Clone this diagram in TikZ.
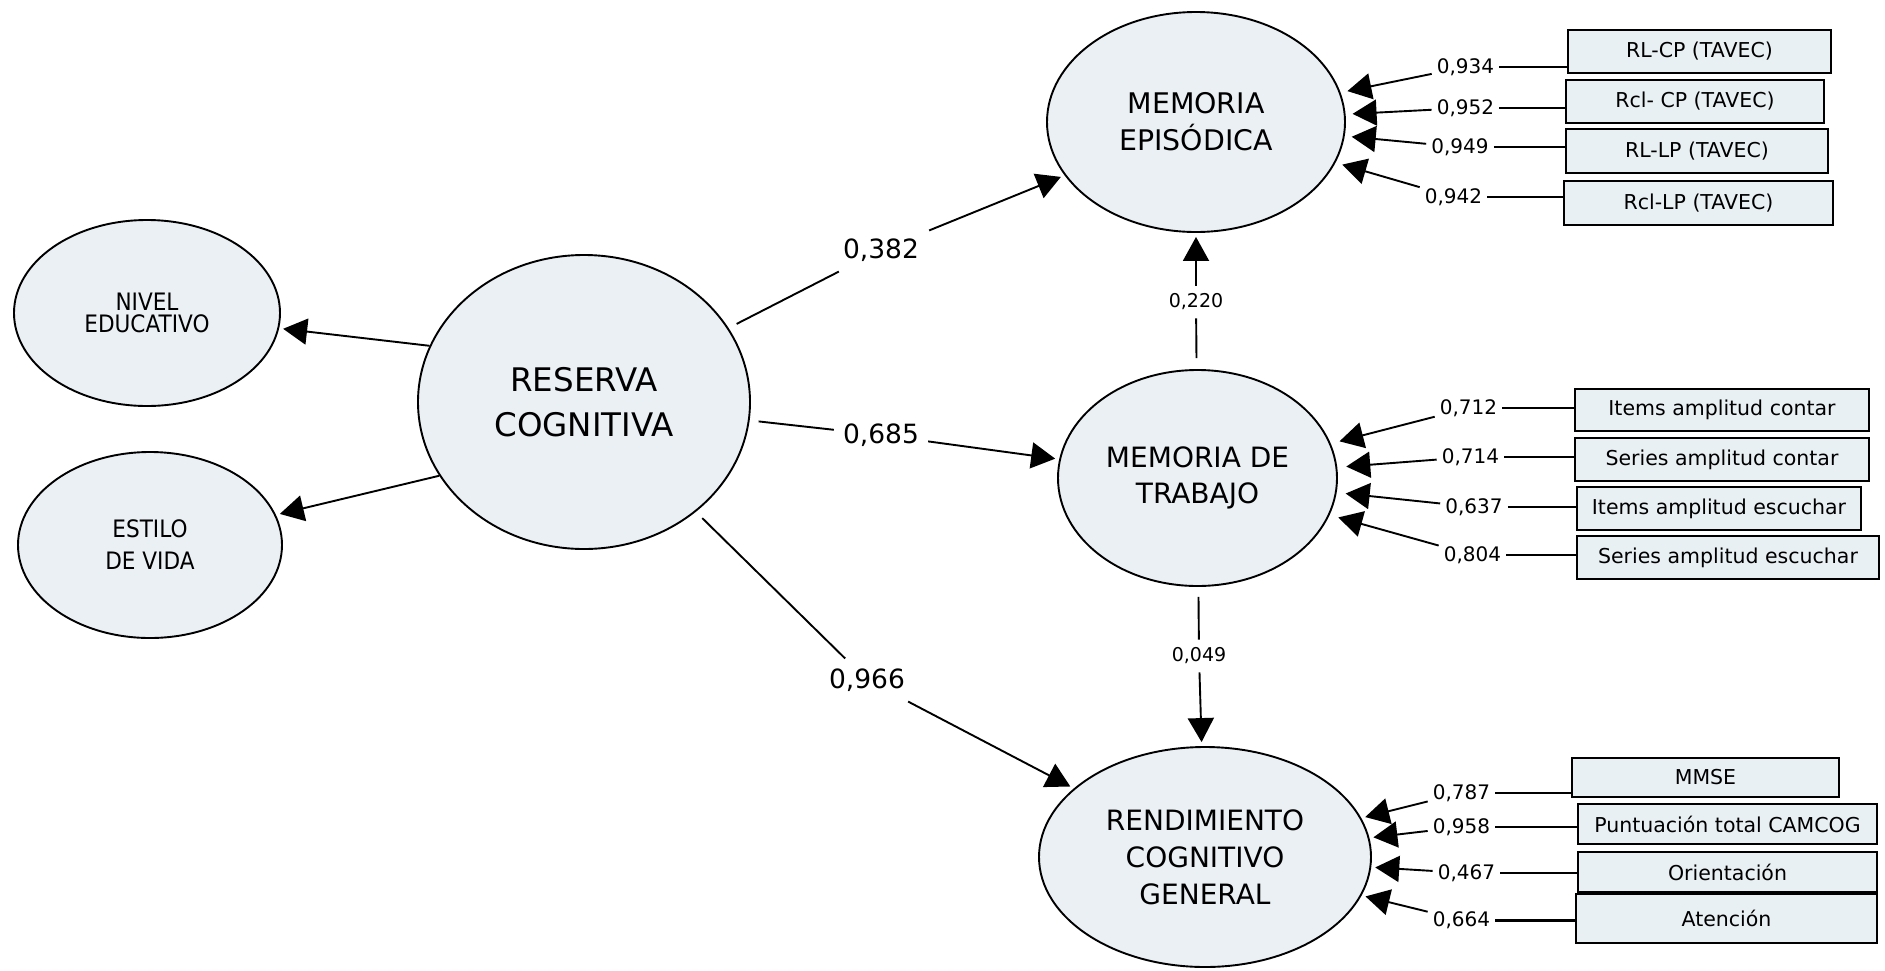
\documentclass[tikz,border=0pt]{standalone}
\usepackage{fontspec}
\setmainfont{DejaVu Sans}
\newfontfamily\narrowsans{DejaVu Sans}[FakeStretch=0.9]
\usetikzlibrary{shapes.geometric,arrows.meta}
\definecolor{latentfill}{RGB}{234,240,244}
\definecolor{boxfill}{RGB}{233,240,243}
\newcommand{\setfs}[2]{\fontsize{#1}{#2}\selectfont}

\begin{document}
\begin{tikzpicture}[x=1pt,y=-1pt,
  latent/.style={ellipse, draw=black, line width=1.9pt, fill=latentfill, inner sep=0pt, align=center},
  indicator/.style={rectangle, draw=black, line width=2.8pt, fill=boxfill, inner sep=0pt,
                    minimum height=43pt, font=\setfs{20.5}{24}},
  coef/.style={inner sep=9pt, font=\setfs{26.5}{30}},
  smallcoef/.style={inner sep=8pt, font=\setfs{19}{22}},
  load/.style={inner sep=5pt, font=\setfs{20}{24}},
  link/.style={line width=1.9pt},
  effect/.style={line width=1.9pt, -{Triangle[length=24pt,width=26pt]}, shorten >=4pt},
  loadarrow/.style={effect, shorten >=7pt},
]
\useasboundingbox (0,0) rectangle (1885,970);

% latent constructs
\node[latent, minimum width=266pt, minimum height=186pt, font=\narrowsans\setfs{24}{22}] (nivel) at (147,313) {NIVEL\\EDUCATIVO};
\node[latent, minimum width=264pt, minimum height=186pt, font=\narrowsans\setfs{24}{32}] (estilo) at (150,545) {ESTILO\\DE VIDA};
\node[latent, minimum width=332pt, minimum height=294pt, font=\setfs{32.5}{45}] (reserva) at (584,402) {RESERVA\\COGNITIVA};
\node[latent, minimum width=298pt, minimum height=220pt, font=\setfs{28.4}{37}] (me) at (1196,122) {MEMORIA\\EPISÓDICA};
\node[latent, minimum width=279pt, minimum height=216pt, font=\setfs{28}{36}] (mdt) at (1197.5,478) {MEMORIA DE\\TRABAJO};
\node[latent, minimum width=332pt, minimum height=220pt, font=\setfs{28}{37}] (rcg) at (1205,857) {RENDIMIENTO\\COGNITIVO\\GENERAL};

% structural coefficients
\node[coef, inner sep=10pt] (c382) at (881,250) {0,382};
\node[coef] (c685) at (881,435) {0,685};
\node[coef, inner sep=10pt] (c966) at (867,680) {0,966};
\node[smallcoef] (c220) at (1196,302) {0,220};
\node[smallcoef] (c049) at (1199,656) {0,049};

\draw[effect] (reserva.160) -- (nivel);
\draw[effect] (reserva.207) -- (estilo);
\draw[link, shorten <=9pt] (reserva) -- (c382);
\draw[effect] (c382) -- (me);
\draw[link, shorten <=9pt] (reserva) -- (c685);
\draw[effect] (c685) -- (mdt);
\draw[link, shorten <=9pt] (reserva) -- (c966);
\draw[effect] (c966) -- (rcg);
\draw[link, shorten <=11pt] (mdt) -- (c220);
\draw[effect] (c220) -- (me);
\draw[link, shorten <=10pt] (mdt) -- (c049);
\draw[effect] (c049) -- (rcg);

% indicators of episodic memory
\node[indicator, minimum width=263pt] (tv1) at (1699.5,51.5) {RL-CP (TAVEC)};
\node[indicator, minimum width=258pt] (tv2) at (1695,101.5) {Rcl- CP (TAVEC)};
\node[indicator, minimum width=262pt, minimum height=44pt] (tv3) at (1697,151) {RL-LP (TAVEC)};
\node[indicator, minimum width=269pt, minimum height=44pt] (tv4) at (1698.5,203) {Rcl-LP (TAVEC)};
\node[load] (k934) at (1465.5,67) {0,934};
\node[load] (k952) at (1465.5,108) {0,952};
\node[load] (k949) at (1460,147) {0,949};
\node[load] (k942) at (1453.5,197) {0,942};
\foreach \k/\b in {k934/tv1,k952/tv2,k949/tv3,k942/tv4}{
  \draw[link] (\k.east) -- (\k.east -| \b.west);
  \draw[loadarrow] (\k) -- (me);
}

% indicators of working memory
\node[indicator, minimum width=294pt, minimum height=42pt] (ic) at (1722,410) {Items amplitud contar};
\node[indicator, minimum width=294pt] (sc) at (1722,459.5) {Series amplitud contar};
\node[indicator, minimum width=284pt] (ie) at (1719,508.5) {Items amplitud escuchar};
\node[indicator, minimum width=302pt] (se) at (1728,557.5) {Series amplitud escuchar};
\node[load] (k712) at (1468.5,408) {0,712};
\node[load] (k714) at (1470.5,457) {0,714};
\node[load] (k637) at (1474,507) {0,637};
\node[load] (k804) at (1472.5,555) {0,804};
\foreach \k/\b in {k712/ic,k714/sc,k637/ie,k804/se}{
  \draw[link] (\k.east) -- (\k.east -| \b.west);
  \draw[loadarrow, shorten >=9pt] (\k) -- (mdt);
}

% indicators of general cognitive performance
\node[indicator, minimum width=267pt, minimum height=39pt] (mmse) at (1705.5,777.5) {MMSE};
\node[indicator, minimum width=299pt, minimum height=40pt] (camcog) at (1727.5,824) {Puntuación total CAMCOG};
\node[indicator, minimum width=299pt, minimum height=40pt] (orient) at (1727.5,872) {Orientación};
\node[indicator, minimum width=301pt, minimum height=49pt] (aten) at (1726.5,918.5) {Atención};
\node[load] (k787) at (1461.5,793) {0,787};
\node[load] (k958) at (1461.5,827) {0,958};
\node[load] (k467) at (1466.5,873) {0,467};
\node[load] (k664) at (1461.5,920) {0,664};
\foreach \k/\b in {k787/mmse,k958/camcog,k467/orient}{
  \draw[link] (\k.east) -- (\k.east -| \b.west);
  \draw[loadarrow, shorten >=4pt] (\k) -- (rcg);
}
\draw[link, line width=3pt] (k664.east) -- (k664.east -| aten.west);
\draw[loadarrow, shorten >=4pt] (k664) -- (rcg);
\end{tikzpicture}
\end{document}
